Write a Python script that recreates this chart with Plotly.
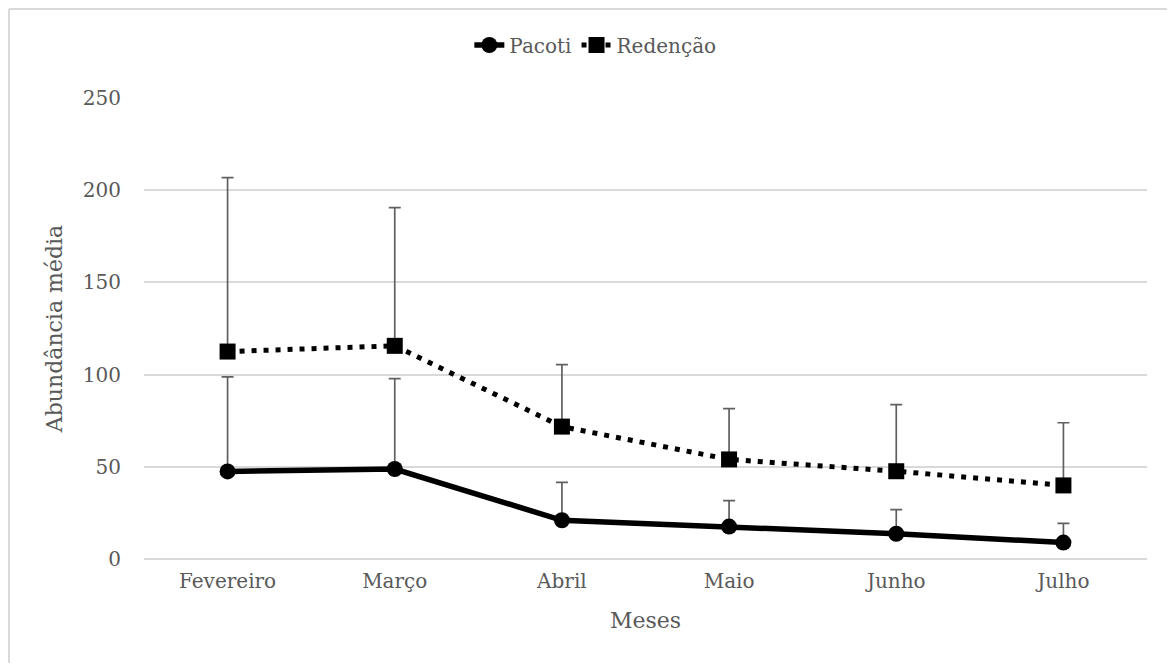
import plotly.graph_objects as go

meses = ["Fevereiro", "Março", "Abril", "Maio", "Junho", "Julho"]
pacoti = [47.5, 48.8, 21.0, 17.6, 13.7, 8.9]
pacoti_err_up = [51.3, 49.0, 20.5, 14.1, 13.1, 10.4]
redencao = [112.5, 115.6, 71.8, 54.0, 47.6, 39.9]
redencao_err_up = [94.3, 75.0, 33.6, 27.6, 36.1, 34.0]

font_family = "DejaVu Serif"
txt_color = "#595959"
grid_color = "#d9d9d9"

W, H = 1159, 655
L, R, T, B = 136, 20, 90, 103.5
pw, ph = W - L - R, H - T - B

fig = go.Figure()
fig.add_trace(go.Scatter(
    x=meses, y=pacoti, name="Pacoti", mode="lines+markers",
    line=dict(color="black", width=5.5),
    marker=dict(symbol="circle", size=16, color="black"),
    error_y=dict(type="data", array=pacoti_err_up, arrayminus=[0]*6, symmetric=False,
                 color="#606060", thickness=1.7, width=6),
))
fig.add_trace(go.Scatter(
    x=meses, y=redencao, name="Redenção", mode="lines+markers",
    line=dict(color="black", width=5, dash="5px,7px"),
    marker=dict(symbol="square", size=16, color="black"),
    error_y=dict(type="data", array=redencao_err_up, arrayminus=[0]*6, symmetric=False,
                 color="#606060", thickness=1.7, width=6),
))

# chart-area frame: only top and left edges fall inside the view
x_left = (1 - L) / pw
y_top = (ph + T - 1) / ph
fig.update_layout(
    width=W, height=H,
    margin=dict(l=L, r=R, t=T, b=B),
    paper_bgcolor="white", plot_bgcolor="white",
    font=dict(family=font_family, size=20, color=txt_color),
    showlegend=True,
    legend=dict(orientation="h", x=0.45, xanchor="center", y=1.115, yanchor="middle",
                font=dict(size=20, color=txt_color), traceorder="normal"),
    xaxis=dict(title=dict(text="Meses", font=dict(size=22, color=txt_color), standoff=20),
               range=[-0.5, 5.5],
               showgrid=False, showline=False, ticks="", ticklabelstandoff=8,
               tickfont=dict(size=20, color=txt_color)),
    yaxis=dict(title=dict(text="Abundância média", font=dict(size=22, color=txt_color), standoff=14),
               range=[0, 250], tickvals=[0, 50, 100, 150, 200, 250],
               showgrid=True, gridcolor=grid_color, gridwidth=1.5,
               zeroline=True, zerolinecolor=grid_color, zerolinewidth=1.5,
               showline=False, ticks="", ticklabelstandoff=22,
               tickfont=dict(size=20, color=txt_color)),
    shapes=[
        dict(type="line", xref="paper", yref="paper", x0=x_left, x1=1.2, y0=y_top, y1=y_top,
             line=dict(color="#d9d9d9", width=2), layer="below"),
        dict(type="line", xref="paper", yref="paper", x0=x_left, x1=x_left, y0=-0.4, y1=y_top,
             line=dict(color="#d9d9d9", width=2), layer="below"),
    ],
)

fig.write_html("out.html")
